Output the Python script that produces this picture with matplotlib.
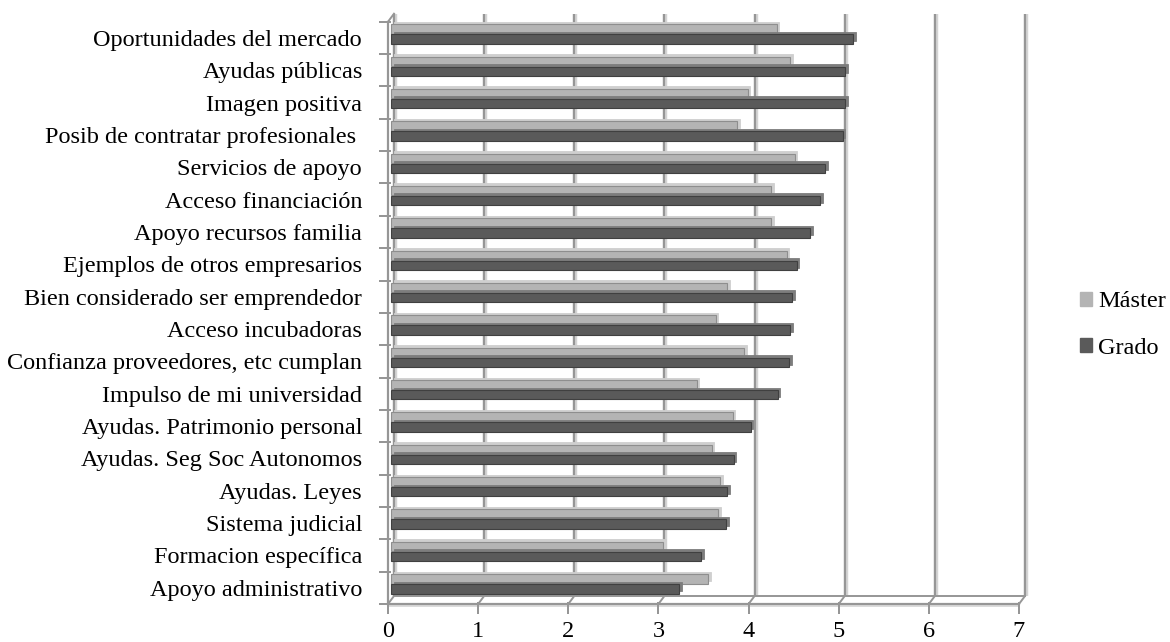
import matplotlib
matplotlib.use("Agg")
import matplotlib.pyplot as plt
from matplotlib.transforms import ScaledTranslation
from matplotlib.patches import Patch

categories = [
    "Oportunidades del mercado",
    "Ayudas públicas",
    "Imagen positiva",
    "Posib de contratar profesionales ",
    "Servicios de apoyo",
    "Acceso financiación",
    "Apoyo recursos familia",
    "Ejemplos de otros empresarios",
    "Bien considerado ser emprendedor",
    "Acceso incubadoras",
    "Confianza proveedores, etc cumplan",
    "Impulso de mi universidad",
    "Ayudas. Patrimonio personal",
    "Ayudas. Seg Soc Autonomos",
    "Ayudas. Leyes",
    "Sistema judicial",
    "Formacion específica",
    "Apoyo administrativo",
]
master = [4.28, 4.43, 3.96, 3.84, 4.48, 4.22, 4.22, 4.39, 3.73, 3.60,
          3.92, 3.39, 3.79, 3.56, 3.65, 3.63, 3.02, 3.52]
grado = [5.13, 5.04, 5.04, 5.01, 4.82, 4.76, 4.65, 4.50, 4.45, 4.43,
         4.42, 4.29, 3.99, 3.80, 3.73, 3.72, 3.44, 3.20]
series_names = ["Máster", "Grado"]
x_ticks = [0, 1, 2, 3, 4, 5, 6, 7]

W, H, DPI = 1170, 642, 100
plt.rcParams["font.family"] = ["Liberation Serif", "DejaVu Serif"]
fig = plt.figure(figsize=(W / DPI, H / DPI), dpi=DPI)
FS = 17.5

# front plane of the plot area, in pixels
left_px, right_px = 388, 1019
bottom_px, top_px = 604, 21.7
ax = fig.add_axes([left_px / W, 1 - bottom_px / H,
                   (right_px - left_px) / W, (bottom_px - top_px) / H])
n = len(categories)
ax.set_xlim(0, 7)
ax.set_ylim(-0.5, n - 0.5)
for s in ax.spines.values():
    s.set_visible(False)
ax.patch.set_alpha(0)


def shift(dx, dy):
    return ax.transData + ScaledTranslation(dx / DPI, dy / DPI, fig.dpi_scale_trans)


# depth offsets (pixels): back wall and the middle plane where the bars sit
back_dx, back_dy = 6, 8
mid_dx, mid_dy = 3, 4
px_x = (right_px - left_px) / 7.0
px_y = (bottom_px - top_px) / n

grid_c = "#969696"
grid_hi = "#d4d4d4"
ylo, yhi = -0.5, n - 0.5

# back wall gridlines and floor joints
for v in x_ticks:
    ax.plot([v, v], [ylo, yhi], color=grid_hi, lw=3.2, transform=shift(back_dx + 1, back_dy),
            solid_capstyle="butt", zorder=1, clip_on=False)
    ax.plot([v, v], [ylo, yhi], color=grid_c, lw=1.6, transform=shift(back_dx, back_dy),
            solid_capstyle="butt", zorder=1.1, clip_on=False)
    # diagonal joint between back wall and front floor edge
    ax.plot([v, v + back_dx / px_x], [ylo, ylo + back_dy / px_y], color=grid_c, lw=1.4,
            transform=ax.transData, zorder=1.1, clip_on=False)

# back edge of the floor
ax.plot([0, 7], [ylo, ylo], color=grid_c, lw=1.4, transform=shift(back_dx, back_dy),
        zorder=1.1, clip_on=False)
# front edge of the floor
ax.plot([0, 7], [ylo, ylo], color=grid_c, lw=1.6, transform=ax.transData, zorder=1.2,
        clip_on=False)
ax.plot([0, 7], [ylo, ylo], color=grid_hi, lw=1.2, transform=shift(0, -1.5), zorder=1.15,
        clip_on=False)
# left side wall front edge and its top joint
ax.plot([0, 0], [ylo, yhi], color=grid_c, lw=1.6, transform=ax.transData, zorder=1.2,
        clip_on=False)
ax.plot([0, back_dx / px_x], [yhi, yhi + back_dy / px_y], color=grid_c, lw=1.4,
        transform=ax.transData, zorder=1.2, clip_on=False)

# tick marks: category boundaries on the left, integers below the floor
for k in range(n + 1):
    ax.plot([0, 0], [k - 0.5, k - 0.5], marker=(2, 0, 90), markersize=8, color=grid_c,
            mew=1.4, transform=shift(-3.5, 0), zorder=1.2, clip_on=False)
for v in x_ticks:
    ax.plot([v, v], [ylo, ylo], marker="|", markersize=8, color=grid_c, mew=1.4,
            transform=shift(0, -3.5), zorder=1.2, clip_on=False)

# bars
ypos = [n - 1 - i for i in range(n)]
bar_h = 0.29
styles = [
    (master, +0.155, "#b4b4b4", "#cfcfcf", "#8e8e8e"),
    (grado, -0.155, "#5a5a5a", "#7d7d7d", "#404040"),
]
for z, (vals, off, face, top, edge) in enumerate(styles):
    y = [p + off for p in ypos]
    depth = ax.barh(y, vals, height=bar_h, color=top, edgecolor=top, lw=0.6, zorder=3 + 2 * z)
    for r in depth:
        r.set_transform(shift(mid_dx + 2.5, mid_dy + 2.5))
        r.set_clip_on(False)
    front = ax.barh(y, vals, height=bar_h, color=face, edgecolor=edge, lw=0.8, zorder=4 + 2 * z)
    for r in front:
        r.set_transform(shift(mid_dx, mid_dy))
        r.set_clip_on(False)

ax.set_yticks(range(n))
ax.set_yticklabels(categories[::-1], fontsize=FS)
ax.tick_params(axis="y", length=0, pad=18.7)
ax.set_xticks(x_ticks)
ax.set_xticklabels([str(v) for v in x_ticks], fontsize=FS)
ax.tick_params(axis="x", length=0, pad=12)

handles = [Patch(facecolor="#b4b4b4", edgecolor="#b4b4b4"),
           Patch(facecolor="#5a5a5a", edgecolor="#5a5a5a")]
fig.legend(handles, series_names, loc="center left",
           bbox_to_anchor=(1080 / W, 1 - 325 / H), frameon=False, fontsize=FS,
           handlelength=0.5, handleheight=0.5, handletextpad=0.25, labelspacing=1.05,
           borderaxespad=0, borderpad=0)

fig.savefig("out.png", dpi=DPI)
